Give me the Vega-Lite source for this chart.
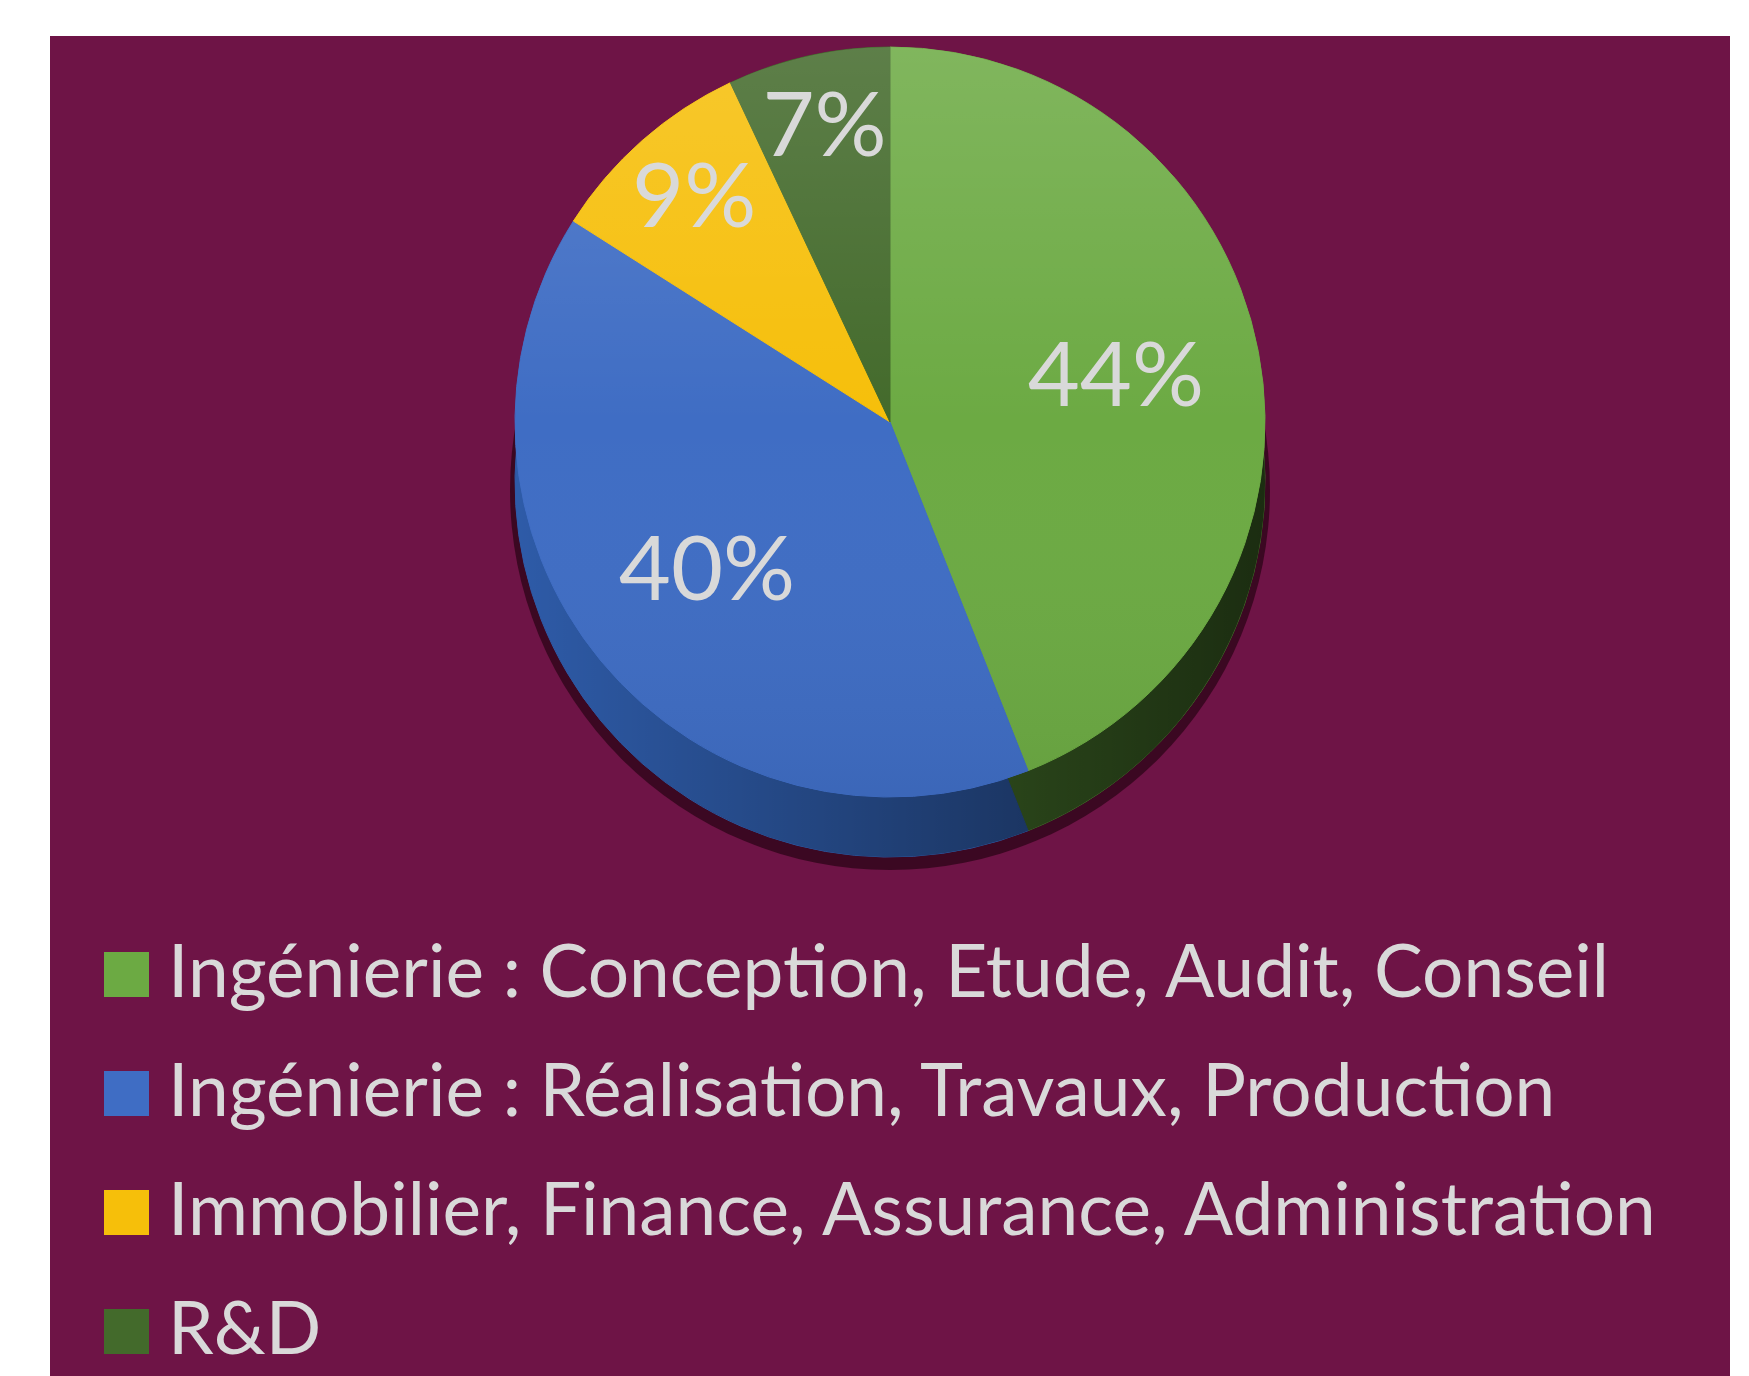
{
  "$schema": "https://vega.github.io/schema/vega-lite/v6.json",
  "width": 1749,
  "height": 1376,
  "autosize": {"type": "fit", "contains": "padding"},
  "padding": {"left": 50, "top": 36, "right": 19, "bottom": 0},
  "background": "#ffffff",
  "config": {
    "view": {"fill": "#6E1446", "stroke": null},
    "legend": {
      "orient": "none",
      "legendX": 40,
      "legendY": 902,
      "symbolType": "square",
      "symbolSize": 2025,
      "symbolStrokeWidth": 0,
      "labelFont": "Lato",
      "labelFontSize": 73,
      "labelColor": "#D9D9D9",
      "rowPadding": 45,
      "labelOffset": 5,
      "labelLimit": 0,
      "padding": 0
    }
  },
  "data": {
    "values": [
      {"category": "Ingénierie : Conception, Etude, Audit, Conseil", "value": 44, "rank": 1, "label": "44%"},
      {"category": "Ingénierie : Réalisation, Travaux, Production", "value": 40, "rank": 2, "label": "40%"},
      {"category": "Immobilier, Finance, Assurance, Administration", "value": 9, "rank": 3, "label": "9%"},
      {"category": "R&D", "value": 7, "rank": 4, "label": "7%"}
    ]
  },
  "layer": [
    {
      "mark": {"type": "arc", "radius": 380, "color": "#2B0417", "opacity": 0.75},
      "encoding": {
        "theta": {"aggregate": "sum", "field": "value", "type": "quantitative"},
        "y": {"value": 454}
      }
    },
    {
      "mark": {"type": "arc", "radius": 375, "strokeWidth": 1},
      "encoding": {
        "theta": {"field": "value", "type": "quantitative", "stack": true},
        "order": {"field": "rank", "type": "quantitative"},
        "y": {"value": 446},
        "color": {
          "field": "category",
          "type": "nominal",
          "legend": null,
          "scale": {
            "domain": ["Ingénierie : Conception, Etude, Audit, Conseil", "Ingénierie : Réalisation, Travaux, Production", "Immobilier, Finance, Assurance, Administration", "R&D"],
            "range": ["#44702A", "#2E5BA8", "#B88A00", "#2E4A1C"]
          }
        },
        "stroke": {
          "field": "category",
          "type": "nominal",
          "legend": null,
          "scale": {
            "domain": ["Ingénierie : Conception, Etude, Audit, Conseil", "Ingénierie : Réalisation, Travaux, Production", "Immobilier, Finance, Assurance, Administration", "R&D"],
            "range": ["#44702A", "#2E5BA8", "#B88A00", "#2E4A1C"]
          }
        }
      }
    },
    {
      "mark": {
        "type": "arc",
        "radius": 375,
        "fill": {
          "gradient": "linear", "x1": 0, "y1": 0, "x2": 1, "y2": 0,
          "stops": [
            {"offset": 0, "color": "rgba(0,0,0,0)"},
            {"offset": 1, "color": "rgba(0,0,0,0.6)"}
          ]
        }
      },
      "encoding": {
        "theta": {"aggregate": "sum", "field": "value", "type": "quantitative"},
        "y": {"value": 446}
      }
    },
    {
      "mark": {"type": "arc", "radius": 375, "strokeWidth": 1},
      "encoding": {
        "theta": {"field": "value", "type": "quantitative", "stack": true},
        "order": {"field": "rank", "type": "quantitative"},
        "y": {"value": 386},
        "color": {
          "field": "category",
          "type": "nominal",
          "title": null,
          "scale": {
            "domain": ["Ingénierie : Conception, Etude, Audit, Conseil", "Ingénierie : Réalisation, Travaux, Production", "Immobilier, Finance, Assurance, Administration", "R&D"],
            "range": ["#6CAA43", "#3F6DC4", "#F6BF0A", "#436A2B"]
          }
        },
        "stroke": {
          "field": "category",
          "type": "nominal",
          "title": null,
          "scale": {
            "domain": ["Ingénierie : Conception, Etude, Audit, Conseil", "Ingénierie : Réalisation, Travaux, Production", "Immobilier, Finance, Assurance, Administration", "R&D"],
            "range": ["#6CAA43", "#3F6DC4", "#F6BF0A", "#436A2B"]
          }
        }
      }
    },
    {
      "mark": {
        "type": "arc",
        "radius": 375,
        "fill": {
          "gradient": "linear", "x1": 0, "y1": 0, "x2": 0, "y2": 1,
          "stops": [
            {"offset": 0, "color": "rgba(255,255,255,0.14)"},
            {"offset": 0.5, "color": "rgba(255,255,255,0)"},
            {"offset": 1, "color": "rgba(0,0,0,0.06)"}
          ]
        }
      },
      "encoding": {
        "theta": {"aggregate": "sum", "field": "value", "type": "quantitative"},
        "y": {"value": 386}
      }
    },
    {
      "mark": {"type": "text", "font": "Lato", "fontSize": 90, "color": "#D9D9D9"},
      "encoding": {
        "theta": {"field": "value", "type": "quantitative", "stack": true},
        "order": {"field": "rank", "type": "quantitative"},
        "radius": {"field": "value", "type": "quantitative", "scale": {"type": "linear", "zero": false, "domain": [7, 44], "range": [300, 230]}},
        "y": {"value": 386},
        "text": {"field": "label", "type": "nominal"}
      }
    }
  ],
  "resolve": {"scale": {"color": "independent", "stroke": "independent"}}
}
